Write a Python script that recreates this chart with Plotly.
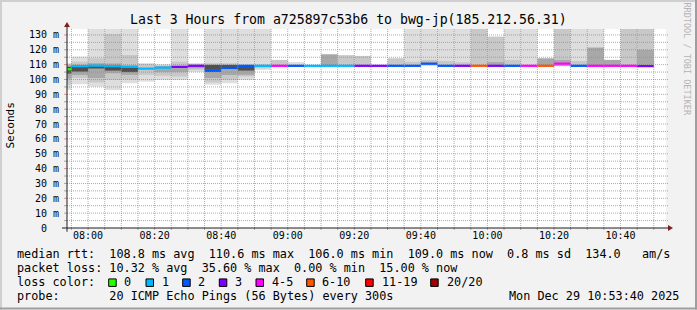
import plotly.graph_objects as go
import pandas as pd

# ---------------- data ----------------
t_end = pd.Timestamp("2025-12-29 10:53:40")
t_start = t_end - pd.Timedelta(hours=3)
step_s = 300
stamps = pd.date_range("2025-12-29 07:55:00", periods=36, freq="5min")  # end of each 5-min step

median_ms = [106.9, 109.0, 109.3, 109.0, 108.7, 107.3, 108.0, 108.5, 109.2, 105.8,
             107.8, 109.2, 109.2, 109.2, 109.2, 109.2, 109.2, 109.2, 109.2, 109.2,
             109.2, 109.2, 110.6, 109.2, 109.2, 109.2, 109.2, 109.2, 109.2, 109.2,
             110.7, 109.2, 109.2, 109.2, 109.2, 109.0]
loss_pings = [0, 1, 1, 1, 1, 1, 1, 3, 3, 2, 2, 2, 1, 4, 2, 1, 1, 1, 3, 3,
              2, 2, 2, 2, 3, 7, 3, 2, 4, 7, 4, 2, 4, 5, 4, 3]

N = None
smoke1_lo = [93.0, 96.8, 95.2, 92.9, 97.5, 98.6, 99.7, 99.7, 105.0, 96.5, 97.5, 99.7, 106.5, N, 109.0, N, N, N, N, N,
             N, 109.0, 109.0, 109.0, 109.0, 109.0, N, 109.0, 109.0, N, N, 109.0, 109.0, N, N, N]
smoke1_hi = [111.0, 115.4, 140, 140, 140, 111.0, 110.3, 140, 111.0, 140, 140, 140, 140, N, 111.8, N, N, N, N, N,
             N, 140, 140, 140, 140, 140, N, 140, 140, N, N, 140, 140, N, N, N]
smoke2_lo = [96.5, 101.0, 98.0, 99.7, 100.0, 103.1, 102.5, 102.0, 106.5, 98.0, 99.7, 102.0, 107.5, 109.0, N, N, N, 109.0, 109.0, N,
             109.0, 109.0, 110.0, 109.0, 109.0, 109.0, 109.0, 109.0, N, N, 109.0, 109.0, N, N, 109.0, 109.0]
smoke2_hi = [110.3, 112.0, 114.3, 130.6, 116.5, 110.5, 109.5, 112.0, 110.5, 111.0, 111.0, 110.0, 110.0, 113.2, N, N, N, 116.4, 115.9, N,
             114.3, 112.0, 113.2, 112.5, 111.6, 140, 128.9, 113.2, N, N, 140, 112.5, N, N, 140, 140]
smoke3_lo = [100.5, 103.0, 101.0, 104.2, 103.1, N, 105.0, 105.0, 107.5, 101.0, 103.0, 103.1, N, N, N, N, 109.0, N, N, N,
             N, N, 110.0, N, N, N, 109.0, N, N, 109.0, 109.0, N, 109.0, 109.0, N, 109.0]
smoke3_hi = [109.5, 110.0, 111.0, 110.8, 109.0, N, 109.0, 109.0, 110.0, 110.0, 110.0, 109.0, N, N, N, N, 117.0, N, N, N,
             N, N, 112.0, N, N, N, 111.7, N, N, 114.3, 113.2, N, 121.5, 113.2, N, 119.9]
smoke4_lo = [104.0, 105.3, 107.4, 106.0, 105.0, N, N, N, N, 106.5, 108.4, 106.0] + [N] * 24
smoke4_hi = [108.5, 109.0, 109.5, 108.5, 108.0, N, N, N, N, 109.8, 109.8, 109.0] + [N] * 24

loss_labels = ["0", "1", "2", "3", "4-5", "6-10", "11-19", "20/20"]
loss_colors = ["#26ff00", "#00b8ff", "#0059ff", "#7e00ff", "#ff00ff", "#ff5500", "#ff0000", "#a00000"]

y_tick_vals = list(range(0, 131, 10))
y_tick_text = ["0\u00a0\u00a0"] + [f"{v}\u00a0m" for v in y_tick_vals[1:]]

title_text = "Last 3 Hours from a725897c53b6 to bwg-jp(185.212.56.31)"
line_rtt = "median rtt:  108.8 ms avg  110.6 ms max  106.0 ms min  109.0 ms now  0.8 ms sd  134.0   am/s"
line_loss = "packet loss: 10.32 % avg  35.60 % max  0.00 % min  15.00 % now"
line_color = "loss color:"
line_probe = "probe:       20 ICMP Echo Pings (56 Bytes) every 300s"
date_text = "Mon Dec 29 10:53:40 2025"
side_text = "RRDTOOL / TOBI OETIKER"


def loss_color(n):
    if n == 0: return loss_colors[0]
    if n == 1: return loss_colors[1]
    if n == 2: return loss_colors[2]
    if n == 3: return loss_colors[3]
    if n <= 5: return loss_colors[4]
    if n <= 10: return loss_colors[5]
    if n <= 19: return loss_colors[6]
    return loss_colors[7]


# ---------------- geometry (pixels) ----------------
W, H = 697, 310
PL, PR, PT, PB = 67, 666, 29, 228.3
FONT = "DejaVu Sans Mono"


def fx(x):
    return (x - PL) / (PR - PL)


def fy(y):
    return (PB - y) / (PB - PT)


centers = [s - pd.Timedelta(seconds=step_s / 2) for s in stamps]
width_ms = step_s * 1000

fig = go.Figure()
smoke_layers = [(smoke1_lo, smoke1_hi, "#dedede"), (smoke2_lo, smoke2_hi, "#c8c8c8"),
                (smoke3_lo, smoke3_hi, "#a8a8a8"), (smoke4_lo, smoke4_hi, "#505050")]
for lo, hi, col in smoke_layers:
    xs, bs, hs = [], [], []
    for c, a, b in zip(centers, lo, hi):
        if a is None or b is None:
            continue
        xs.append(c); bs.append(a); hs.append(b - a)
    fig.add_trace(go.Bar(x=xs, y=hs, base=bs, width=width_ms, marker_color=col,
                         marker_line_width=0, hoverinfo="skip"))

med_h = 1.5
fig.add_trace(go.Bar(x=centers, y=[med_h] * len(median_ms), base=[m - med_h / 2 for m in median_ms],
                     width=width_ms, marker_color=[loss_color(n) for n in loss_pings],
                     marker_line_width=0, hoverinfo="skip"))

shapes = []
# grid lines on top of data (rrdtool style)
GRID = "rgba(143,143,143,0.75)"
MGRID = "rgba(222,79,79,0.6)"
t = pd.Timestamp("2025-12-29 07:55:00")
while t < t_end:
    major = (t.minute % 20 == 0)
    shapes.append(dict(type="line", xref="x", yref="paper", x0=t, x1=t, y0=0, y1=1,
                       line=dict(color=MGRID if major else GRID, width=1, dash="1px,1px"), layer="above"))
    shapes.append(dict(type="line", xref="x", yref="paper", x0=t, x1=t, y0=0, y1=fy(PB + 2),
                       line=dict(color=MGRID if major else GRID, width=1), layer="above"))
    t += pd.Timedelta(minutes=5)
for v in range(5, 135, 5):
    major = (v % 10 == 0)
    shapes.append(dict(type="line", xref="paper", yref="y", x0=0, x1=fx(668), y0=v, y1=v,
                       line=dict(color=MGRID if major else GRID, width=1, dash="1px,1px"), layer="above"))
    shapes.append(dict(type="line", xref="paper", yref="y", x0=fx(PL - 3), x1=0, y0=v, y1=v,
                       line=dict(color=MGRID if major else GRID, width=1), layer="above"))

# axes lines and arrows
AXIS = "#1f1f1f"
ARROW = "#801f1f"
shapes.append(dict(type="line", xref="paper", yref="paper", x0=fx(62), x1=fx(669), y0=0, y1=0,
                   line=dict(color=AXIS, width=1), layer="above"))
shapes.append(dict(type="line", xref="paper", yref="paper", x0=0, x1=0, y0=fy(232), y1=fy(25),
                   line=dict(color=AXIS, width=1), layer="above"))
shapes.append(dict(type="path", xref="paper", yref="paper",
                   path=f"M{fx(668)},{fy(225.3)} L{fx(673)},{fy(228.3)} L{fx(668)},{fy(231.3)} Z",
                   fillcolor=ARROW, line=dict(width=0), layer="above"))
shapes.append(dict(type="path", xref="paper", yref="paper",
                   path=f"M{fx(64)},{fy(27)} L{fx(67)},{fy(22)} L{fx(70)},{fy(27)} Z",
                   fillcolor=ARROW, line=dict(width=0), layer="above"))

# 3D frame
shapes.append(dict(type="rect", xref="paper", yref="paper", x0=fx(0), x1=fx(W), y0=fy(0), y1=fy(2),
                   fillcolor="#cfcfcf", line=dict(width=0)))
shapes.append(dict(type="rect", xref="paper", yref="paper", x0=fx(0), x1=fx(2), y0=fy(0), y1=fy(H),
                   fillcolor="#cfcfcf", line=dict(width=0)))
shapes.append(dict(type="rect", xref="paper", yref="paper", x0=fx(0), x1=fx(W), y0=fy(H - 2), y1=fy(H),
                   fillcolor="#9e9e9e", line=dict(width=0)))
shapes.append(dict(type="rect", xref="paper", yref="paper", x0=fx(W - 2), x1=fx(W), y0=fy(0), y1=fy(H),
                   fillcolor="#9e9e9e", line=dict(width=0)))

# legend colour boxes
box_left = [108.7, 146, 182.7, 219.3, 256, 306.7, 365.7, 430.7]
label_left = [123.3, 160.7, 197, 233.7, 270.7, 320.7, 380.7, 445.7]
for bx, col in zip(box_left, loss_colors):
    shapes.append(dict(type="rect", xref="paper", yref="paper", x0=fx(bx), x1=fx(bx + 7.5),
                       y0=fy(286.8), y1=fy(279.3), fillcolor=col, line=dict(color="#000000", width=1)))

annotations = []


def txt(x, y, s, size, xanchor="left", color="#000000", angle=0):
    annotations.append(dict(x=fx(x), y=fy(y), xref="paper", yref="paper", text=s.replace(" ", "\u00a0"),
                            showarrow=False, xanchor=xanchor, yanchor="middle", borderpad=0,
                            textangle=angle, font=dict(family=FONT, size=size, color=color)))


txt(348, 19, title_text, 13.2, xanchor="center")
LS = 11.8
txt(16, 254.6, line_rtt, LS)
txt(16, 268.0, line_loss, LS)
txt(16, 282.0, line_color, LS)
for lx, lab in zip(label_left, loss_labels):
    txt(lx, 282.0, lab, LS)
txt(16, 296.0, line_probe, LS)
txt(680, 296.0, date_text, LS, xanchor="right")
txt(10.7, 126, "Seconds", 11, xanchor="center", angle=-90)
txt(687.5, 59, side_text, 8.5, xanchor="center", color="#b4b4b4", angle=90)

fig.update_layout(
    width=W, height=H, margin=dict(l=PL, r=W - PR, t=PT, b=H - PB, pad=0),
    paper_bgcolor="#f2f2f2", plot_bgcolor="#ffffff", barmode="overlay", showlegend=False,
    font=dict(family=FONT, size=10, color="#000000"),
    shapes=shapes, annotations=annotations,
    xaxis=dict(type="date", range=[t_start, t_end], tickformat="%H:%M",
               tick0="2025-12-29 08:00:00", dtick=20 * 60 * 1000, showgrid=False, zeroline=False,
               showline=False, ticks="", tickfont=dict(family=FONT, size=10), ticklabelstandoff=0),
    yaxis=dict(range=[0, 134.0], tickvals=y_tick_vals, ticktext=y_tick_text, showgrid=False,
               zeroline=False, showline=False, ticks="", tickfont=dict(family=FONT, size=10),
               ticklabelstandoff=7),
)

fig.write_html("out.html")
